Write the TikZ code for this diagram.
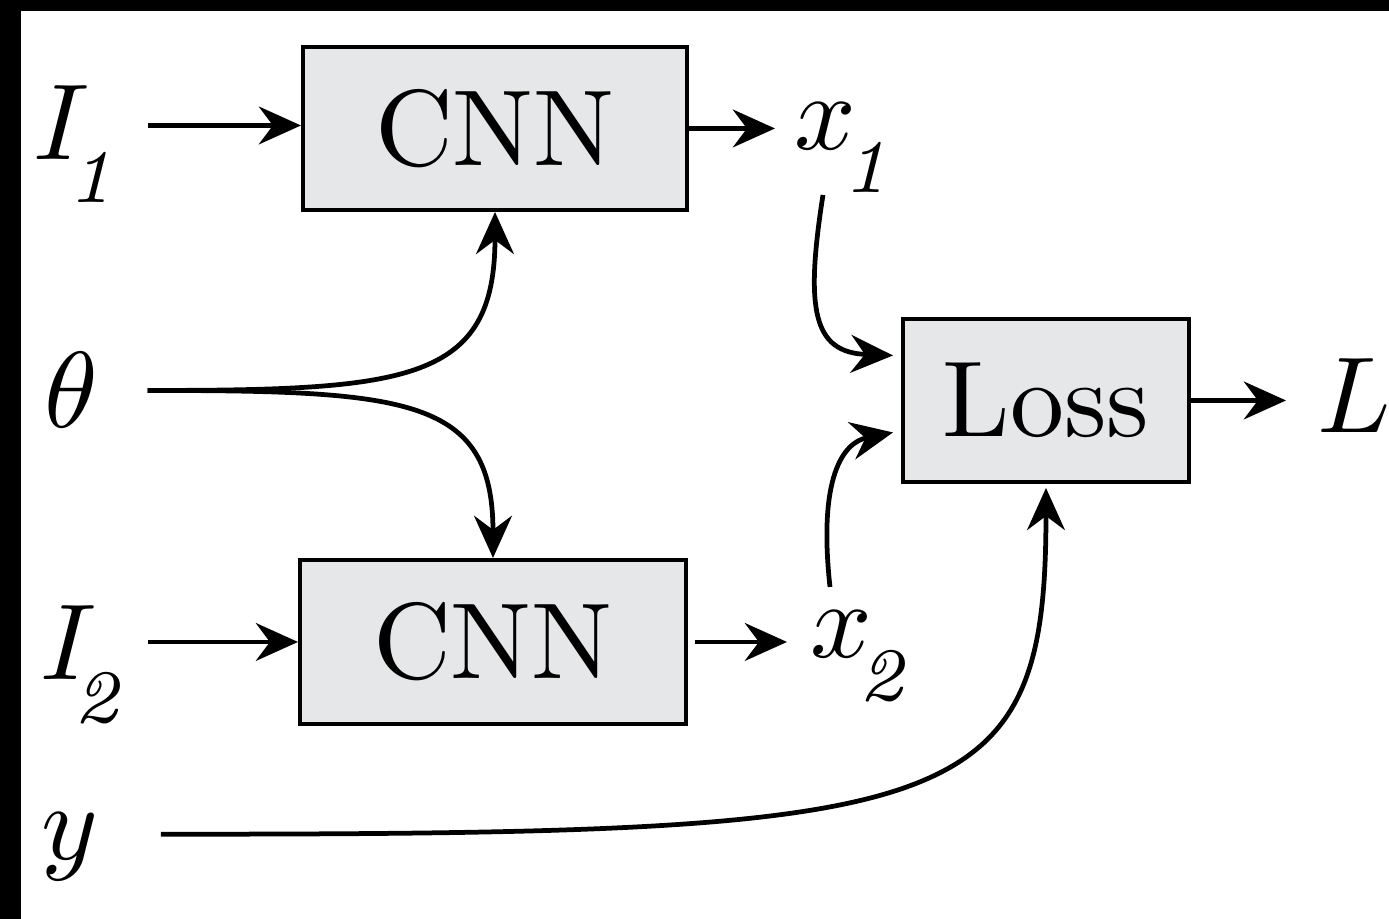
\documentclass[tikz,border=0pt]{standalone}
\usetikzlibrary{arrows.meta,calc}
\definecolor{boxfill}{RGB}{230,231,232}
\newcommand{\subit}[1]{\kern-1.3pt\raisebox{-2.4pt}{$\scriptstyle\mathit{#1}$}}
\tikzset{
  lab/.style={inner sep=0pt,outer sep=0pt},
  blockbox/.style={draw=black,line width=0.37pt,fill=boxfill,inner sep=0pt},
  arr/.style={line width=0.44pt,-{Stealth[length=3.9pt,width=3.5pt,inset=1.3pt]}}
}
\begin{document}
\begin{tikzpicture}[x=0.09259pt,y=-0.09259pt]
\useasboundingbox (0,0) rectangle (1389,919);
\fill[white] (0,0) rectangle (1389,919);
\fill[black] (0,0) rectangle (1389,11);
\fill[black] (0,0) rectangle (21,919);

% blocks
\node[blockbox,minimum width=35.56pt,minimum height=15.09pt] (cnn1) at (495,128.5) {CNN};
\node[blockbox,minimum width=35.74pt,minimum height=15.19pt] (cnn2) at (493,642) {CNN};
\node[blockbox,minimum width=26.48pt,minimum height=15.09pt] (loss) at (1046,400.5) {Loss};

% labels
\node[lab,anchor=base west] (I1) at (34,160) {$I_{\subit{1}}$};
\node[lab,anchor=base west] (theta) at (44,428) {$\theta$};
\node[lab,anchor=base west] (I2) at (40,680) {$I_{\subit{2}}$};
\node[lab,anchor=base west] (y) at (42,860) {$y$};
\node[lab,anchor=base west] (x1) at (795,150) {$x_{\subit{1}}$};
\node[lab,anchor=base west] (x2) at (811,658) {$x_{\subit{2}}$};
\node[lab,anchor=base west] (L) at (1318,433) {$L$};

% straight connectors
\draw[arr] ($(I1.base west |- cnn1.west)+(114,-3)$) -- ($(cnn1.west)+(0,-3)$);
\draw[arr] ($(I2.base west |- cnn2.west)+(108,0)$) -- (cnn2.west);
\draw[arr] (cnn1.east) -- ($(x1.west |- cnn1.east)+(-20,0)$);
\draw[arr] ($(cnn2.east)+(7,0)$) -- ($(x2.west |- cnn2.east)+(-24,0)$);
\draw[arr] (loss.east) -- ($(L.west |- loss.east)+(-32,0)$);

% theta split
\draw[arr] ($(theta.east)+(50,0)$) .. controls +(260,0) and +(0,170) .. (cnn1.south);
\draw[arr] ($(theta.east)+(50,0)$) .. controls +(260,0) and +(0,-160) .. (cnn2.north);

% into loss
\draw[arr] ($(x1.base west)+(28,45)$) .. controls +(-18,115) and +(-80,-3) .. ($(loss.west)+(-8,-45)$);
\draw[arr] ($(x2.base west)+(19,-71)$) .. controls +(-12,-110) and +(-50,10) .. ($(loss.west)+(-8,32)$);
\draw[arr] ($(y.east)+(62,-13)$) .. controls +(800,0) and +(0,330) .. ($(loss.south)+(0,4)$);
\end{tikzpicture}
\end{document}
